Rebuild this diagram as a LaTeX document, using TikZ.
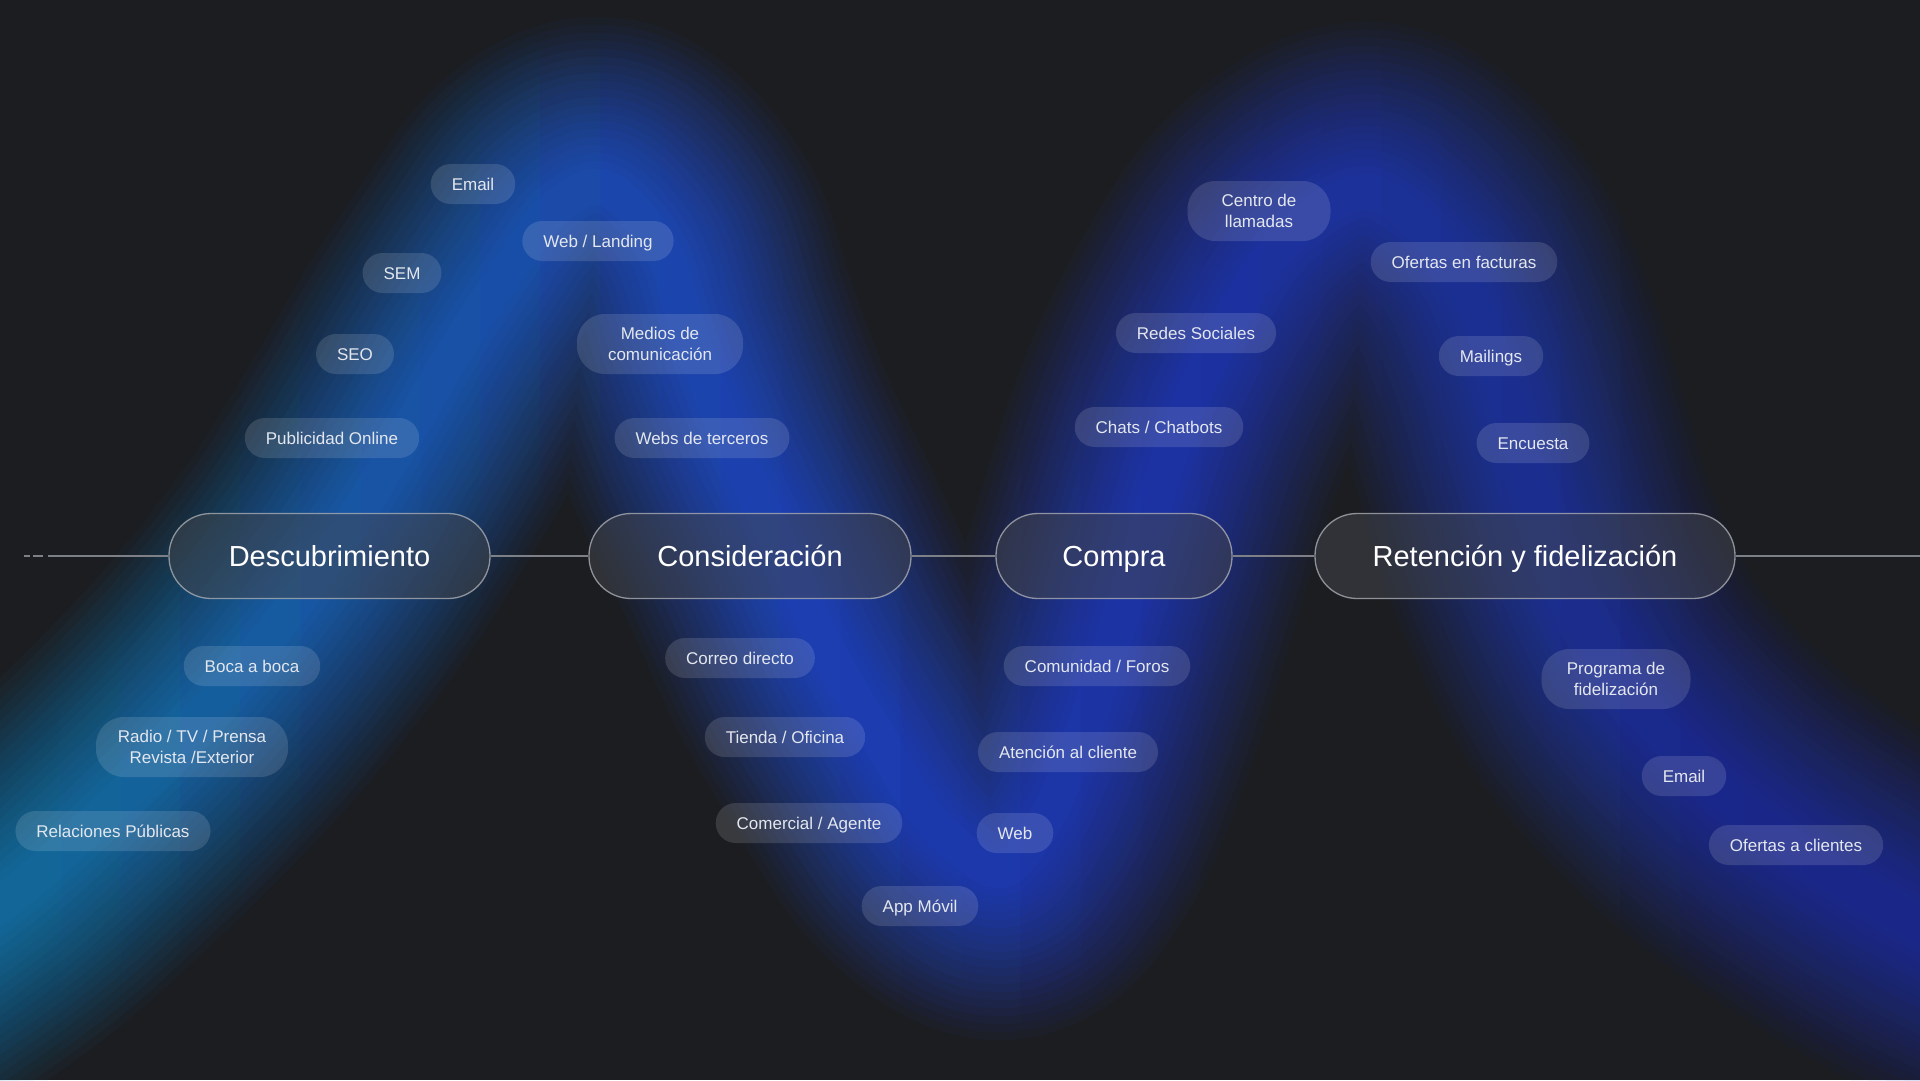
\documentclass[tikz,border=0pt]{standalone}
\usepackage{fontspec}
\setmainfont{Liberation Sans}
\definecolor{bgc}{HTML}{1C1D21}
\definecolor{glowc}{RGB}{30,80,235}
\definecolor{glowcyan}{RGB}{18,140,200}
\definecolor{glownavy}{RGB}{26,50,180}
\definecolor{stagefill}{HTML}{44474F}
\definecolor{stageline}{HTML}{A9ACB3}
\definecolor{pilltext}{HTML}{E3E7EF}
\definecolor{linec}{HTML}{7E8087}

\def\wavedraw#1{\draw[#1] plot[smooth,tension=0.55] coordinates {(-150,1010) (0,905) (86,830) (171,747) (245,666) (330,556) (404,438) (453,354) (505,275) (553,210) (605,188) (660,245) (690,335) (730,440) (785,556) (830,655) (880,740) (935,825) (1000,870) (1045,820) (1078,745) (1105,666) (1139,556) (1175,440) (1220,340) (1285,240) (1370,192) (1450,260) (1494,356) (1522,450) (1555,556) (1616,679) (1702,775) (1790,845) (1920,925) (2100,1010)};}

\tikzset{
  stage/.style={draw=stageline, draw opacity=0.8, line width=1.3pt, fill=stagefill, fill opacity=0.5,
    text opacity=1, text=white, font=\fontsize{29}{34}\selectfont, minimum height=85pt,
    rounded corners=42pt, inner sep=0pt, text height=21pt, text depth=0pt},
  pill/.style={fill=white, fill opacity=0.13, text opacity=1, text=pilltext,
    font=\fontsize{17}{21}\selectfont, minimum height=40pt, rounded corners=20pt,
    inner xsep=21pt, inner ysep=0pt, text height=12.2pt, text depth=0pt},
  pilltwo/.style={fill=white, fill opacity=0.13, text opacity=1, text=pilltext,
    font=\fontsize{17}{21}\selectfont, minimum height=60pt, rounded corners=28pt,
    inner xsep=8pt, inner ysep=0pt, align=center},
  conn/.style={draw=linec, line width=1.4pt},
}

\begin{document}
\begin{tikzpicture}[x=1pt,y=-1pt]
\useasboundingbox (0,0) rectangle (1920,1080);
\fill[bgc] (0,0) rectangle (1920,1080);

% glow band, coloured in vertical strips
\begin{scope}
  \clip (0,0) rectangle (1920,1080);
  \foreach \i in {0,...,31} {
    \pgfmathsetmacro{\xa}{\i*60}
    \pgfmathsetmacro{\xb}{\xa+60}
    \pgfmathsetmacro{\xm}{\xa+30}
    \pgfmathtruncatemacro{\pa}{max(0,min(100,(820-\xm)/8.2))}
    \pgfmathtruncatemacro{\pb}{max(0,min(100,(\xm-820)/9))}
    \colorlet{stripc}{glowcyan!\pa!glowc}
    \colorlet{stripc}{glownavy!\pb!stripc}
    \begin{scope}
      \clip (\xa,-20) rectangle (\xb,1100);
      \foreach \k in {0,...,19} {
        \pgfmathsetmacro{\w}{340-16*\k}
        \pgfmathsetmacro{\o}{0.04+0.0026*\k}
        \wavedraw{stripc, line width=\w*1pt, opacity=\o}
      }
    \end{scope}
  }
\end{scope}

% stages
\node[stage, minimum width=321pt] (s1) at (329.5,556) {Descubrimiento};
\node[stage, minimum width=322pt] (s2) at (750,556) {Consideración};
\node[stage, minimum width=236pt] (s3) at (1114,556) {Compra};
\node[stage, minimum width=420pt] (s4) at (1525,556) {Retención y fidelización};

% connectors
\coordinate (lstart) at (48,556);
\coordinate (da) at (24,556);
\coordinate (db) at (30,556);
\coordinate (dc) at (33,556);
\coordinate (dd) at (43,556);
\coordinate (rend) at (1920,556);
\draw[conn] (da) -- (db);
\draw[conn] (dc) -- (dd);
\draw[conn] (lstart) -- (s1.west);
\draw[conn] (s1.east) -- (s2.west);
\draw[conn] (s2.east) -- (s3.west);
\draw[conn] (s3.east) -- (s4.west);
\draw[conn] (s4.east) -- (rend);

% Descubrimiento channels
\node[pill] (e1) at (473,184) {Email};
\node[pill] (sem) at (402,273) {SEM};
\node[pill] (seo) at (355,354) {SEO};
\node[pill] (pub) at (332,438) {Publicidad Online};
\node[pill] (boc) at (252,666) {Boca a boca};
\node[pilltwo, minimum width=192pt] (rad) at (192,747) {Radio / TV / Prensa\\Revista /Exterior};
\node[pill] (rel) at (113,831) {Relaciones Públicas};

% Consideracion channels
\node[pill] (web) at (598,241) {Web / Landing};
\node[pilltwo, minimum width=166pt] (med) at (660,344) {Medios de\\comunicación};
\node[pill] (wter) at (702,438) {Webs de terceros};
\node[pill] (cor) at (740,658) {Correo directo};
\node[pill] (tie) at (785,737) {Tienda / Oficina};
\node[pill] (com) at (809,823) {Comercial / Agente};
\node[pill] (app) at (920,906) {App Móvil};

% Compra channels
\node[pilltwo, minimum width=143pt] (cen) at (1259,211) {Centro de\\llamadas};
\node[pill] (red) at (1196,333) {Redes Sociales};
\node[pill] (cha) at (1159,427) {Chats / Chatbots};
\node[pill] (comu) at (1097,666) {Comunidad / Foros};
\node[pill] (ate) at (1068,752) {Atención al cliente};
\node[pill] (webb) at (1015,833) {Web};

% Retencion channels
\node[pill] (ofe) at (1464,262) {Ofertas en facturas};
\node[pill] (mai) at (1491,356) {Mailings};
\node[pill] (enc) at (1533,443) {Encuesta};
\node[pilltwo, minimum width=149pt] (pro) at (1616,679) {Programa de\\fidelización};
\node[pill] (e2) at (1684,776) {Email};
\node[pill] (ofc) at (1796,845) {Ofertas a clientes};
\end{tikzpicture}
\end{document}
